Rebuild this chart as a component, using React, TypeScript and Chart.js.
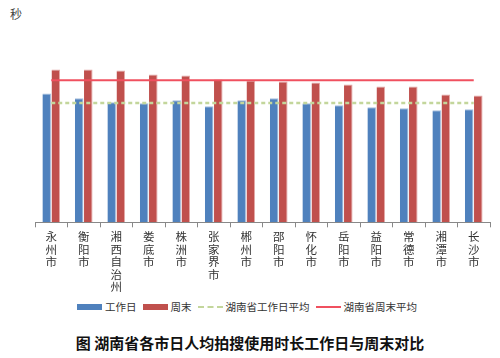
import React, { useEffect, useRef } from "react";
import { Chart, registerables } from "chart.js";

Chart.register(...registerables);

const categories = [
  ["永", "州", "市"],
  ["衡", "阳", "市"],
  ["湘", "西", "自", "治", "州"],
  ["娄", "底", "市"],
  ["株", "洲", "市"],
  ["张", "家", "界", "市"],
  ["郴", "州", "市"],
  ["邵", "阳", "市"],
  ["怀", "化", "市"],
  ["岳", "阳", "市"],
  ["益", "阳", "市"],
  ["常", "德", "市"],
  ["湘", "潭", "市"],
  ["长", "沙", "市"],
];

const workdayValues = [130, 125, 121, 120, 123, 117, 123, 125, 120, 118, 116, 115, 113, 114];
const weekendValues = [154, 154, 153, 149, 148, 144, 143, 142, 141, 139, 137, 137, 129, 128];
const workdayAverage = 120.3;
const weekendAverage = 143.3;

const seriesNames = ["工作日", "周末", "湖南省工作日平均", "湖南省周末平均"];
const seriesColors = ["#4F81BD", "#C0504D", "#C3D69B", "#F0505F"];
const yUnit = "秒";
const caption = "图 湖南省各市日人均拍搜使用时长工作日与周末对比";

const FONT = "'Noto Sans CJK SC', sans-serif";

function LegendItem({ idx }: { idx: number }) {
  const isLine = idx >= 2;
  const color = seriesColors[idx];
  const marker = isLine ? (
    <div
      style={{
        width: 25,
        height: 0,
        borderTop: idx === 2 ? `2px dashed ${color}` : `2px solid ${color}`,
      }}
    />
  ) : (
    <div style={{ width: 25, height: 6, background: color }} />
  );
  return (
    <div style={{ display: "flex", alignItems: "center", marginRight: 6 }}>
      {marker}
      <span style={{ marginLeft: 3, fontSize: 10.5, color: "#333", lineHeight: "12px" }}>{seriesNames[idx]}</span>
    </div>
  );
}

export default function App() {
  const ref = useRef<HTMLCanvasElement | null>(null);

  useEffect(() => {
    document.body.style.margin = "0";
    const ctx = ref.current;
    if (!ctx) return;
    const n = categories.length;
    const chart = new Chart(ctx, {
      data: {
        labels: categories,
        datasets: [
          {
            type: "bar",
            label: seriesNames[0],
            data: workdayValues,
            backgroundColor: seriesColors[0],
            borderColor: "#A7C0DE",
            borderWidth: { left: 0, right: 1, top: 1, bottom: 0 },
            categoryPercentage: 0.56,
            barPercentage: 0.94,
            order: 3,
          },
          {
            type: "bar",
            label: seriesNames[1],
            data: weekendValues,
            backgroundColor: seriesColors[1],
            borderColor: "#E3A9A7",
            borderWidth: { left: 0, right: 1, top: 1, bottom: 0 },
            categoryPercentage: 0.56,
            barPercentage: 0.94,
            order: 4,
          },
          {
            type: "line",
            label: seriesNames[2],
            data: new Array(n).fill(workdayAverage),
            borderColor: seriesColors[2],
            borderWidth: 2.5,
            borderDash: [4, 3],
            pointRadius: 0,
            order: 1,
          },
          {
            type: "line",
            label: seriesNames[3],
            data: new Array(n).fill(weekendAverage),
            borderColor: seriesColors[3],
            borderWidth: 2,
            pointRadius: 0,
            order: 2,
          },
        ],
      } as any,
      options: {
        animation: false,
        responsive: true,
        maintainAspectRatio: false,
        layout: { padding: { left: 35, right: 10, top: 24, bottom: 0 } },
        plugins: {
          tooltip: { enabled: false },
          title: { display: false },
          legend: { display: false },
        },
        scales: {
          x: {
            offset: true,
            grid: {
              offset: true,
              drawOnChartArea: false,
              drawTicks: true,
              tickLength: 5,
              color: "#888",
            },
            border: { display: true, color: "#888" },
            ticks: {
              maxRotation: 0,
              autoSkip: false,
              color: "#333",
              padding: 3,
              font: { family: FONT, size: 11.5, lineHeight: 1.09 },
            },
          },
          y: {
            display: false,
            min: 0,
            max: 200,
          },
        },
      },
    });
    return () => chart.destroy();
  }, []);

  return (
    <div style={{ position: "absolute", left: 0, top: 0, width: 500, height: 358, background: "#fff", fontFamily: FONT }}>
      <div style={{ position: "absolute", left: 10, top: 5, fontSize: 12, color: "#444" }}>{yUnit}</div>
      <div style={{ position: "absolute", left: 0, top: 0, width: 500, height: 296 }}>
        <canvas ref={ref} />
      </div>
      <div
        style={{
          position: "absolute",
          left: 0,
          top: 301,
          width: 500,
          height: 12,
          display: "flex",
          justifyContent: "center",
          alignItems: "center",
        }}
      >
        {[0, 1, 2, 3].map((i) => (
          <LegendItem key={i} idx={i} />
        ))}
      </div>
      <div
        style={{
          position: "absolute",
          left: 0,
          top: 333,
          width: 500,
          textAlign: "center",
          fontSize: 15,
          fontWeight: "bold",
          color: "#111",
          whiteSpace: "pre",
          lineHeight: "20px",
        }}
      >
        {caption}
      </div>
    </div>
  );
}
